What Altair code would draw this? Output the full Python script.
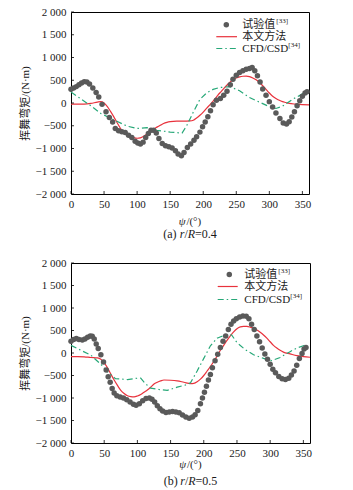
import altair as alt
import pandas as pd

# ---------------- data: panel (a) r/R=0.4 ----------------
exp_a_deg = [0, 4, 8, 12, 16, 20, 24, 28, 33, 38, 42, 47, 53, 58, 63, 67, 72, 77, 82, 87,
             92, 97, 101, 105, 109, 113, 117, 121, 125, 129, 133, 138, 143, 148, 153, 158,
             162, 167, 171, 176, 181, 186, 190, 195, 199, 203, 207, 211, 215, 220, 226, 231,
             236, 241, 245, 250, 255, 260, 265, 270, 274, 278, 282, 286, 290, 295, 300, 305,
             310, 316, 321, 326, 330, 334, 338, 342, 346, 350, 354, 357]
exp_a_val = [300, 330, 360, 400, 440, 470, 460, 420, 330, 230, 130, -30, -190, -320, -420,
             -560, -610, -630, -650, -710, -760, -840, -880, -900, -860, -760, -670, -600,
             -600, -660, -780, -890, -940, -960, -990, -1050, -1120, -1160, -1090, -980,
             -900, -820, -740, -640, -520, -420, -300, -170, -40, 60, 100, 170, 260, 400,
             520, 610, 670, 710, 740, 760, 780, 710, 600, 460, 310, 170, 30, -90, -220,
             -340, -440, -460, -410, -310, -190, -60, 50, 150, 220, 250]

red_a_deg = [0, 10, 20, 30, 40, 45, 50, 55, 60, 65, 70, 75, 80, 85, 90, 95, 100, 105, 110,
             115, 120, 125, 130, 135, 140, 145, 150, 160, 170, 180, 185, 190, 195, 200, 205,
             210, 215, 220, 225, 230, 235, 240, 245, 250, 255, 260, 265, 270, 275, 280, 285,
             290, 295, 300, 305, 310, 315, 320, 325, 330, 340, 350, 360]
red_a_val = [-25, -25, -25, -10, 20, 30, 0, -80, -190, -310, -440, -560, -640, -690, -730,
             -760, -775, -765, -730, -680, -620, -570, -530, -490, -450, -425, -410, -400,
             -400, -395, -380, -330, -270, -200, -120, -40, 40, 130, 220, 300, 380, 450, 510,
             550, 575, 588, 590, 580, 550, 510, 450, 380, 300, 220, 150, 100, 60, 30, 10,
             -10, -25, -35, -40]

cfd_a_deg = [0, 30, 45, 65, 85, 100, 115, 130, 150, 168, 175, 185, 195, 205, 215, 225, 240,
             255, 270, 285, 300, 310, 320, 335, 350, 357]
cfd_a_val = [240, -60, -230, -370, -510, -560, -540, -600, -640, -660, -500, -200, 80, 220,
             300, 340, 360, 270, 120, 20, -80, -120, -70, 80, 200, 240]

# ---------------- data: panel (b) r/R=0.5 ----------------
exp_b_deg = [0, 4, 8, 12, 17, 21, 25, 29, 32, 35, 38, 41, 45, 49, 53, 56, 59, 62, 65, 69,
             74, 79, 84, 89, 94, 98, 103, 108, 113, 118, 122, 126, 130, 134, 138, 143, 148,
             153, 158, 163, 168, 173, 178, 183, 187, 191, 195, 198, 201, 204, 207, 210, 213,
             217, 221, 225, 229, 233, 237, 241, 245, 249, 254, 259, 264, 268, 272, 276, 280,
             284, 288, 292, 296, 300, 304, 308, 313, 318, 323, 328, 332, 336, 340, 344, 348,
             351, 354]
exp_b_val = [260, 300, 320, 300, 290, 310, 350, 380, 370, 310, 200, 100, -40, -200, -380,
             -530, -650, -790, -890, -950, -980, -1000, -1040, -1090, -1140, -1160, -1130,
             -1060, -1010, -1000, -1030, -1090, -1170, -1240, -1290, -1320, -1310, -1300,
             -1310, -1330, -1380, -1420, -1450, -1420, -1370, -1280, -1130, -1000, -870, -740,
             -600, -480, -330, -170, -30, 120, 260, 380, 520, 640, 710, 760, 800, 820, 815,
             760, 640, 520, 380, 250, 110, -20, -140, -250, -360, -440, -520, -570, -590, -560,
             -490, -400, -270, -120, -10, 90, 120]

red_b_deg = [0, 10, 20, 30, 40, 45, 50, 55, 60, 65, 70, 75, 80, 85, 90, 95, 100, 105, 110,
             115, 120, 125, 130, 135, 140, 150, 160, 170, 180, 185, 190, 195, 200, 205, 210,
             215, 220, 225, 230, 235, 240, 245, 250, 255, 260, 265, 270, 275, 280, 285, 290,
             295, 300, 305, 310, 315, 320, 330, 340, 350, 360]
red_b_val = [-80, -80, -85, -100, -110, -140, -220, -330, -470, -600, -720, -830, -900, -950,
             -970, -975, -955, -920, -870, -820, -760, -690, -650, -620, -600, -605, -620,
             -650, -680, -675, -640, -580, -500, -400, -300, -190, -70, 60, 170, 280, 380,
             470, 540, 580, 590, 590, 575, 550, 510, 460, 400, 330, 250, 170, 110, 60, 20,
             -20, -60, -80, -95]

cfd_b_deg = [0, 30, 45, 55, 67, 85, 100, 105, 112, 120, 132, 145, 160, 175, 180, 190, 200,
             210, 220, 232, 242, 250, 262, 275, 290, 302, 315, 330, 340, 350, 352]
cfd_b_val = [170, -50, -250, -420, -570, -590, -560, -560, -680, -780, -810, -830, -760,
             -700, -660, -400, -120, 160, 330, 400, 400, 230, 80, -40, -120, -170, -100, 30,
             110, 160, 170]

# ---------------- labels ----------------
x_ticks = [0, 50, 100, 150, 200, 250, 300, 350]
y_ticks = [-2000, -1500, -1000, -500, 0, 500, 1000, 1500, 2000]
y_title = "挥舞弯矩/(N·m)"
x_title_sym = "ψ"
x_title_rest = "/(°)"
legend_names = ["试验值", "本文方法", "CFD/CSD"]
legend_refs = ["[33]", "", "[34]"]

FONT = "'Liberation Serif', 'Noto Sans CJK SC', serif"
TXT = "#1a1a1a"
GREY = "#5a5a5a"
RED = "#e8323c"
GREEN = "#27a878"
ONE = pd.DataFrame({"k": [0]})


def txt(text, x, y, size=11, style="normal", align="left"):
    return alt.Chart(ONE).mark_text(
        text=text, font=FONT, fontSize=size, fontStyle=style, align=align,
        baseline="middle", color=TXT
    ).encode(x=alt.value(x), y=alt.value(y))


def seq_text(parts, cx, y, size):
    # parts: list of (text, italic, em-width)
    total = sum(p[2] for p in parts) * size
    x = cx - total / 2
    out = []
    for t, it, w in parts:
        out.append(txt(t, x, y, size, "italic" if it else "normal"))
        x += w * size
    return out


def panel(exp_deg, exp_val, red_deg, red_val, cfd_deg, cfd_val, w, h, letter, ratio,
          xt_off, cap_off, leg, spacer=None):
    xs = alt.Scale(domain=[0, 360], nice=False, zero=False)
    ys = alt.Scale(domain=[-2000, 2000], nice=False)
    df_e = pd.DataFrame({"deg": exp_deg, "val": exp_val})
    df_r = pd.DataFrame({"deg": red_deg, "val": red_val})
    df_c = pd.DataFrame({"deg": cfd_deg, "val": cfd_val})

    xaxis = alt.Axis(values=x_ticks, ticks=False, domain=False, grid=False, labelFont=FONT,
                     labelFontSize=11, labelColor=TXT, labelPadding=4, title=None,
                     labelFlush=False)
    yaxis = alt.Axis(values=y_ticks, ticks=False, domain=False, grid=False, labelFont=FONT,
                     labelFontSize=11, labelColor=TXT, labelPadding=5,
                     labelExpr="replace(format(datum.value, ','), ',', ' ')",
                     title=y_title, titleFont=FONT, titleFontSize=11,
                     titleFontWeight="normal", titleColor=TXT, titlePadding=5)

    X = alt.X("deg:Q", scale=xs, axis=xaxis)
    Y = alt.Y("val:Q", scale=ys, axis=yaxis)

    red = alt.Chart(df_r).mark_line(color=RED, strokeWidth=1.2, interpolate="monotone").encode(
        x=X, y=Y)
    cfd = alt.Chart(df_c).mark_line(color=GREEN, strokeWidth=1.2, strokeDash=[6, 3, 1.5, 3]).encode(
        x=X, y=Y)
    pts = alt.Chart(df_e).mark_circle(color=GREY, size=30, opacity=1).encode(x=X, y=Y)

    xtk = alt.Chart(pd.DataFrame({"deg": x_ticks})).mark_rule(color="black", strokeWidth=0.8).encode(
        x=X, y=alt.value(h - 3), y2=alt.value(h))
    ytk = alt.Chart(pd.DataFrame({"val": y_ticks})).mark_rule(color="black", strokeWidth=0.8).encode(
        y=Y, x=alt.value(0), x2=alt.value(3))

    # legend (drawn manually so the reference numbers can be superscripts)
    dot_x, line_x0, line_x1, tx, rows = leg
    legend = [
        alt.Chart(ONE).mark_circle(color=GREY, size=30, opacity=1).encode(
            x=alt.value(dot_x), y=alt.value(rows[0])),
        alt.Chart(ONE).mark_rule(color=RED, strokeWidth=1.2).encode(
            x=alt.value(line_x0), x2=alt.value(line_x1), y=alt.value(rows[1])),
        alt.Chart(ONE).mark_rule(color=GREEN, strokeWidth=1.2, strokeDash=[6, 3, 1.5, 3]).encode(
            x=alt.value(line_x0), x2=alt.value(line_x1), y=alt.value(rows[2])),
        txt(legend_names[0], tx, rows[0], 11),
        txt(legend_refs[0], tx + 34, rows[0] - 3.5, 7),
        txt(legend_names[1], tx, rows[1], 11),
        txt(legend_names[2], tx, rows[2], 11),
        txt(legend_refs[2], tx + 46, rows[2] - 3.5, 7),
    ]

    cx = w / 2
    xt = seq_text([(x_title_sym, True, 0.69), (x_title_rest, False, 1.344)], cx, h + xt_off, 11)
    cap = seq_text([("(" + letter + ") ", False, 0.333 + 0.47 + 0.333 + 0.25),
                    ("r", True, 0.389), ("/", False, 0.278), ("R", True, 0.611),
                    ("=" + ratio, False, 1.814)], cx, h + cap_off, 12)

    layers = [red, cfd, pts, xtk, ytk] + legend + xt + cap
    if spacer is not None:
        # invisible white hairline that only widens the panel's left bound
        layers.append(alt.Chart(ONE).mark_rule(color="white", strokeWidth=1).encode(
            x=alt.value(spacer), x2=alt.value(spacer + 0.5), y=alt.value(90), y2=alt.value(91)))
    return alt.layer(*layers).properties(width=w, height=h)


pa = panel(exp_a_deg, exp_a_val, red_a_deg, red_a_val, cfd_a_deg, cfd_a_val, 238, 182,
           "a", "0.4", 28, 39.5, (155.3, 145.3, 166, 171.3, [12.7, 24.7, 36.5]))
pb = panel(exp_b_deg, exp_b_val, red_b_deg, red_b_val, cfd_b_deg, cfd_b_val, 239, 180,
           "b", "0.5", 21.5, 37.5, (158.3, 146.7, 166.7, 173.3, [11.5, 23.5, 36.5]),
           spacer=-57)

chart = alt.vconcat(pa, pb, spacing=16).properties(
    padding={"left": 13, "top": 5, "right": 5, "bottom": 5},
    background="white"
).configure_view(stroke="black", strokeWidth=1)

chart.save("out.html", embed_options={"renderer": "svg", "actions": False})
